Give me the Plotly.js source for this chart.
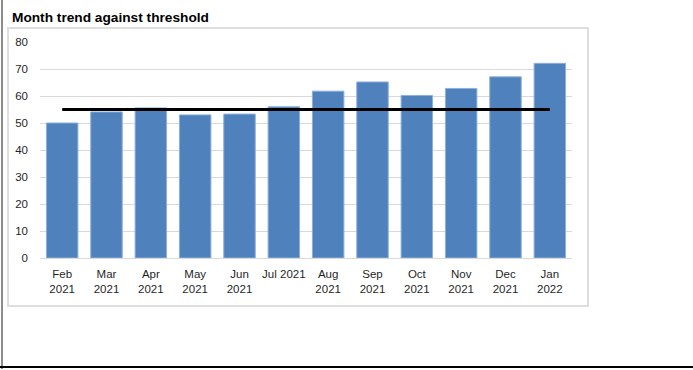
<!DOCTYPE html>
<html>
<head>
<meta charset="utf-8">
<script src="https://cdn.plot.ly/plotly-3.0.1.min.js"></script>
<style>
  html, body { margin:0; padding:0; background:#fff; }
  #wrap { position:relative; width:693px; height:370px; overflow:hidden; }
  #leftline { position:absolute; left:1px; top:0; width:2px; height:369px; background:#8c8c8c; }
  #bottomline { position:absolute; left:0; top:366px; width:693px; height:2px; background:#000; }
  #box { position:absolute; left:7px; top:27px; width:578px; height:276px; border:2px solid #dedede; }
  #chart { position:absolute; left:0; top:0; width:693px; height:370px; }
</style>
</head>
<body>
<div id="wrap">
  <div id="leftline"></div>
  <div id="bottomline"></div>
  <div id="box"></div>
  <div id="chart"></div>
</div>
<script>
const categories = ["Feb 2021","Mar 2021","Apr 2021","May 2021","Jun 2021","Jul 2021","Aug 2021","Sep 2021","Oct 2021","Nov 2021","Dec 2021","Jan 2022"];
const tickLabels = ["Feb<br>2021","Mar<br>2021","Apr<br>2021","May<br>2021","Jun<br>2021","Jul 2021","Aug<br>2021","Sep<br>2021","Oct<br>2021","Nov<br>2021","Dec<br>2021","Jan<br>2022"];
const values = [50.0, 54.1, 55.6, 53.0, 53.3, 56.0, 61.8, 65.2, 60.2, 62.8, 67.1, 72.1];
const threshold = [55, 55, 55, 55, 55, 55, 55, 55, 55, 55, 55, 55];
const yTicks = [0, 10, 20, 30, 40, 50, 60, 70, 80];

const tickFont = {family: "Liberation Sans, Arial, sans-serif", size: 11.5, color: "#1f1f1f"};

const data = [
  {
    type: "bar",
    x: categories,
    y: values,
    marker: {color: "#4f81bd", line: {color: "#8db0dc", width: 1}},
    hoverinfo: "x+y"
  },
  {
    type: "scatter",
    mode: "lines",
    x: categories,
    y: threshold,
    line: {color: "#000000", width: 3}
  }
];

const layout = {
  width: 693,
  height: 370,
  showlegend: false,
  paper_bgcolor: "rgba(0,0,0,0)",
  plot_bgcolor: "rgba(0,0,0,0)",
  margin: {l: 40, r: 121, t: 42, b: 112, pad: 0},
  bargap: 0.29,
  title: {
    text: "<b>Month trend against threshold</b>",
    font: {family: "Liberation Sans, Arial, sans-serif", size: 13.7, color: "#000"},
    xref: "container", yref: "container",
    x: 12/693, xanchor: "left",
    y: 1 - 17/370, yanchor: "middle"
  },
  xaxis: {
    type: "category",
    tickvals: categories,
    ticktext: tickLabels,
    tickfont: tickFont,
    showline: true,
    linecolor: "#d9d9d9",
    linewidth: 1,
    showgrid: false,
    ticks: "",
    ticklabelstandoff: 5,
    automargin: false,
    fixedrange: true
  },
  yaxis: {
    range: [0, 80],
    tickvals: yTicks,
    tickfont: tickFont,
    showgrid: true,
    gridcolor: "#d9d9d9",
    gridwidth: 1,
    zeroline: false,
    showline: false,
    ticks: "",
    ticklabelstandoff: 11,
    automargin: false,
    fixedrange: true
  }
};

Plotly.newPlot("chart", data, layout, {displayModeBar: false, staticPlot: true});
</script>
</body>
</html>
